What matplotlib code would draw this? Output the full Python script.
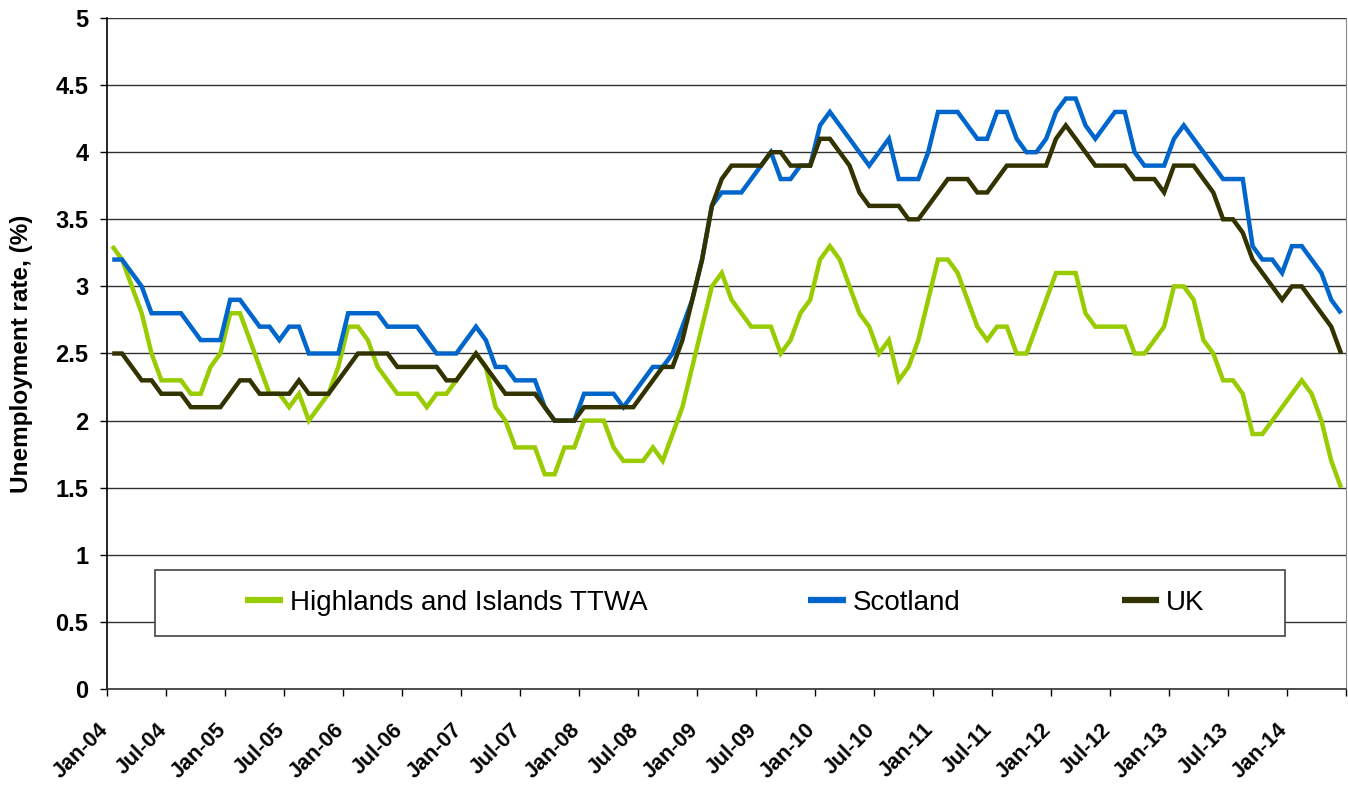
import matplotlib
matplotlib.use("Agg")
import matplotlib.pyplot as plt
from matplotlib.patches import Rectangle
from matplotlib.transforms import ScaledTranslation
import numpy as np
import pandas as pd

plt.rcParams['font.family'] = ['Liberation Sans', 'DejaVu Sans']

# Monthly categories Jan-04 .. Jun-14
categories = list(pd.date_range("2004-01-01", periods=126, freq="MS").strftime("%b-%y"))

highlands = [
    3.3, 3.2, 3.0, 2.8, 2.5, 2.3, 2.3, 2.3, 2.2, 2.2, 2.4, 2.5,
    2.8, 2.8, 2.6, 2.4, 2.2, 2.2, 2.1, 2.2, 2.0, 2.1, 2.2, 2.4,
    2.7, 2.7, 2.6, 2.4, 2.3, 2.2, 2.2, 2.2, 2.1, 2.2, 2.2, 2.3,
    2.4, 2.5, 2.4, 2.1, 2.0, 1.8, 1.8, 1.8, 1.6, 1.6, 1.8, 1.8,
    2.0, 2.0, 2.0, 1.8, 1.7, 1.7, 1.7, 1.8, 1.7, 1.9, 2.1, 2.4,
    2.7, 3.0, 3.1, 2.9, 2.8, 2.7, 2.7, 2.7, 2.5, 2.6, 2.8, 2.9,
    3.2, 3.3, 3.2, 3.0, 2.8, 2.7, 2.5, 2.6, 2.3, 2.4, 2.6, 2.9,
    3.2, 3.2, 3.1, 2.9, 2.7, 2.6, 2.7, 2.7, 2.5, 2.5, 2.7, 2.9,
    3.1, 3.1, 3.1, 2.8, 2.7, 2.7, 2.7, 2.7, 2.5, 2.5, 2.6, 2.7,
    3.0, 3.0, 2.9, 2.6, 2.5, 2.3, 2.3, 2.2, 1.9, 1.9, 2.0, 2.1,
    2.2, 2.3, 2.2, 2.0, 1.7, 1.5,
]

scotland = [
    3.2, 3.2, 3.1, 3.0, 2.8, 2.8, 2.8, 2.8, 2.7, 2.6, 2.6, 2.6,
    2.9, 2.9, 2.8, 2.7, 2.7, 2.6, 2.7, 2.7, 2.5, 2.5, 2.5, 2.5,
    2.8, 2.8, 2.8, 2.8, 2.7, 2.7, 2.7, 2.7, 2.6, 2.5, 2.5, 2.5,
    2.6, 2.7, 2.6, 2.4, 2.4, 2.3, 2.3, 2.3, 2.1, 2.0, 2.0, 2.0,
    2.2, 2.2, 2.2, 2.2, 2.1, 2.2, 2.3, 2.4, 2.4, 2.5, 2.7, 2.9,
    3.2, 3.6, 3.7, 3.7, 3.7, 3.8, 3.9, 4.0, 3.8, 3.8, 3.9, 3.9,
    4.2, 4.3, 4.2, 4.1, 4.0, 3.9, 4.0, 4.1, 3.8, 3.8, 3.8, 4.0,
    4.3, 4.3, 4.3, 4.2, 4.1, 4.1, 4.3, 4.3, 4.1, 4.0, 4.0, 4.1,
    4.3, 4.4, 4.4, 4.2, 4.1, 4.2, 4.3, 4.3, 4.0, 3.9, 3.9, 3.9,
    4.1, 4.2, 4.1, 4.0, 3.9, 3.8, 3.8, 3.8, 3.3, 3.2, 3.2, 3.1,
    3.3, 3.3, 3.2, 3.1, 2.9, 2.8,
]

uk = [
    2.5, 2.5, 2.4, 2.3, 2.3, 2.2, 2.2, 2.2, 2.1, 2.1, 2.1, 2.1,
    2.2, 2.3, 2.3, 2.2, 2.2, 2.2, 2.2, 2.3, 2.2, 2.2, 2.2, 2.3,
    2.4, 2.5, 2.5, 2.5, 2.5, 2.4, 2.4, 2.4, 2.4, 2.4, 2.3, 2.3,
    2.4, 2.5, 2.4, 2.3, 2.2, 2.2, 2.2, 2.2, 2.1, 2.0, 2.0, 2.0,
    2.1, 2.1, 2.1, 2.1, 2.1, 2.1, 2.2, 2.3, 2.4, 2.4, 2.6, 2.9,
    3.2, 3.6, 3.8, 3.9, 3.9, 3.9, 3.9, 4.0, 4.0, 3.9, 3.9, 3.9,
    4.1, 4.1, 4.0, 3.9, 3.7, 3.6, 3.6, 3.6, 3.6, 3.5, 3.5, 3.6,
    3.7, 3.8, 3.8, 3.8, 3.7, 3.7, 3.8, 3.9, 3.9, 3.9, 3.9, 3.9,
    4.1, 4.2, 4.1, 4.0, 3.9, 3.9, 3.9, 3.9, 3.8, 3.8, 3.8, 3.7,
    3.9, 3.9, 3.9, 3.8, 3.7, 3.5, 3.5, 3.4, 3.2, 3.1, 3.0, 2.9,
    3.0, 3.0, 2.9, 2.8, 2.7, 2.5,
]

series_names = ["Highlands and Islands TTWA", "Scotland", "UK"]
series_colors = ["#99CC00", "#0066CC", "#333300"]
y_ticks = [0, 0.5, 1, 1.5, 2, 2.5, 3, 3.5, 4, 4.5, 5]
y_label = "Unemployment rate, (%)"

W, H = 1348, 785
fig = plt.figure(figsize=(W / 100, H / 100), dpi=100)
ax_l, ax_r, ax_t, ax_b = 107.3, 1346, 18, 689
ax = fig.add_axes([ax_l / W, 1 - ax_b / H, (ax_r - ax_l) / W, (ax_b - ax_t) / H])

x = np.arange(len(categories))
for vals, name, col in zip([highlands, scotland, uk], series_names, series_colors):
    ax.plot(x, vals, color=col, lw=3.2, label=name, solid_joinstyle='miter',
            solid_capstyle='butt', zorder=3)

ax.set_xlim(-0.5, len(categories) - 0.5)
ax.set_ylim(0, 5)

# y axis
ax.set_yticks(y_ticks)
ax.set_yticklabels([f"{v:g}" for v in y_ticks], fontsize=17, fontweight='bold')
ax.yaxis.grid(True, color='#333333', lw=1.0)
ax.set_axisbelow(True)

# x axis: ticks at category boundaries every 6 months
tick_pos = np.arange(-0.5, len(categories) + 0.5, 6)
tick_labels = categories[::6] + [""]
ax.set_xticks(tick_pos)
ax.set_xticklabels(tick_labels, rotation=45, ha='right', va='center',
                   rotation_mode='anchor', fontsize=15.5, fontweight='bold')
ax.tick_params(axis='x', length=5, width=1, direction='out', pad=22.4, colors='black')
ax.tick_params(axis='y', length=5, width=1, direction='out', pad=8.6, colors='black')
shift = ScaledTranslation(-2.5 / 100, 0, fig.dpi_scale_trans)
for lab in ax.get_xticklabels():
    lab.set_transform(lab.get_transform() + shift)

ax.spines['top'].set_visible(False)
ax.spines['left'].set_color('black')
ax.spines['bottom'].set_color('#333333')
ax.spines['right'].set_color('#888888')
ax.spines['left'].set_linewidth(1.2)
ax.spines['bottom'].set_linewidth(1.2)

ax.set_ylabel(y_label, fontsize=17.5, fontweight='bold')
ax.yaxis.set_label_coords((33 - ax_l) / (ax_r - ax_l), 0.5)

# Legend box
bx0, bx1, by0, by1 = 155, 1285, 570, 636
def to_ax(px, py):
    return (px - ax_l) / (ax_r - ax_l), (ax_b - py) / (ax_b - ax_t)
lx0, ly1 = to_ax(bx0, by0)
lx1, ly0 = to_ax(bx1, by1)
ax.add_patch(Rectangle((lx0, ly0), lx1 - lx0, ly1 - ly0, transform=ax.transAxes,
                       facecolor='white', edgecolor='#444444', lw=1.2, zorder=4))
leg = ax.legend(loc='center', bbox_to_anchor=((lx0 + lx1) / 2 + 0.004, (ly0 + ly1) / 2),
                ncol=3, frameon=False, fontsize=20, handlelength=1.35,
                handletextpad=0.25, columnspacing=5.8)
leg.set_zorder(5)
for line in leg.get_lines():
    line.set_linewidth(4.5)

fig.savefig("out.png", dpi=100, facecolor='white')
